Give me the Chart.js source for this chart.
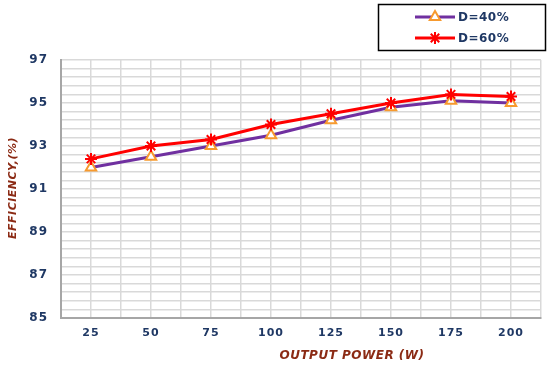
<!DOCTYPE html>
<html>
<head>
<meta charset="utf-8">
<script src="https://cdn.jsdelivr.net/npm/chart.js@4/dist/chart.umd.min.js"></script>
<style>
  body { margin: 0; background: #fff; }
  #wrap { width: 550px; height: 369px; position: relative; }
</style>
</head>
<body>
<div id="wrap"><canvas id="chart"></canvas></div>
<script>
// output power (W) on the x axis
const power = [25, 50, 75, 100, 125, 150, 175, 200];
// efficiency (%) for each duty cycle
const effD40 = [92.0, 92.5, 93.0, 93.5, 94.2, 94.8, 95.1, 95.0];
const effD60 = [92.4, 93.0, 93.3, 94.0, 94.5, 95.0, 95.4, 95.3];
const seriesNames = ["D=40%", "D=60%"];
const yTitle = "EFFICIENCY,(%)";
const xTitle = "OUTPUT POWER (W)";

const navy = "#1f3864";
const brown = "#8b2a14";
const gridColor = "#d9d9d9";

const toPoints = (ys) => ys.map((y, i) => ({ x: power[i], y: y }));

// titles and the boxed legend, drawn by hand so they sit where the original has them
const extras = {
  id: "extras",
  beforeDraw(chart) {
    chart.ctx.letterSpacing = "1px";
  },
  afterDraw(chart) {
    const ctx = chart.ctx;
    ctx.save();
    ctx.letterSpacing = "0.5px";
    ctx.fillStyle = brown;
    ctx.font = "italic bold 12px 'DejaVu Sans'";
    ctx.textAlign = "center";
    ctx.textBaseline = "middle";
    ctx.fillText(xTitle, 352, 356);

    ctx.save();
    ctx.translate(13, 188);
    ctx.rotate(-Math.PI / 2);
    ctx.font = "italic bold 11px 'DejaVu Sans'";
    ctx.fillText(yTitle, 0, 0);
    ctx.restore();

    // legend box
    ctx.strokeStyle = "#000";
    ctx.lineWidth = 1.5;
    ctx.strokeRect(378.5, 4.5, 167, 46);
    chart.data.datasets.forEach((ds, i) => {
      const y = 17 + i * 21;
      ctx.strokeStyle = ds.borderColor;
      ctx.lineWidth = 3;
      ctx.beginPath();
      ctx.moveTo(415, y);
      ctx.lineTo(455, y);
      ctx.stroke();
      ctx.strokeStyle = ds.pointBorderColor;
      ctx.fillStyle = ds.pointBackgroundColor;
      ctx.lineWidth = ds.pointBorderWidth;
      Chart.helpers.drawPoint(ctx, { pointStyle: ds.pointStyle, radius: ds.pointRadius, rotation: 0, borderWidth: ds.pointBorderWidth }, 435, y);
      ctx.fillStyle = navy;
      ctx.font = "bold 12px 'DejaVu Sans'";
      ctx.textAlign = "left";
      ctx.letterSpacing = "0.5px";
      ctx.fillText(ds.label, 458, y + 1);
    });
    ctx.restore();
  }
};

new Chart(document.getElementById("chart"), {
  type: "line",
  data: {
    datasets: [
      {
        label: seriesNames[0],
        data: toPoints(effD40),
        borderColor: "#7030a0",
        borderWidth: 3,
        pointStyle: "triangle",
        pointRadius: 6,
        pointBorderColor: "#f79a2e",
        pointBackgroundColor: "#ffffff",
        pointBorderWidth: 2,
        order: 2
      },
      {
        label: seriesNames[1],
        data: toPoints(effD60),
        borderColor: "#ff0000",
        borderWidth: 3,
        pointStyle: "star",
        pointRadius: 6,
        pointBorderColor: "#ff0000",
        pointBackgroundColor: "#ff0000",
        pointBorderWidth: 2,
        order: 1
      }
    ]
  },
  options: {
    responsive: true,
    maintainAspectRatio: false,
    animation: false,
    layout: { padding: { left: 0, right: 9, top: 60, bottom: 0 } },
    plugins: {
      legend: { display: false },
      tooltip: { enabled: false }
    },
    scales: {
      x: {
        type: "linear",
        min: 12.5,
        max: 212.5,
        afterFit: (s) => { s.height = 51; },
        border: { color: "#a6a6a6", width: 2 },
        grid: { color: gridColor, lineWidth: 1.5, drawTicks: false },
        ticks: {
          stepSize: 12.5,
          autoSkip: false,
          maxRotation: 0,
          padding: 9,
          color: navy,
          font: { family: "'DejaVu Sans'", size: 11, weight: "bold" },
          callback: (v) => (power.includes(v) ? String(v) : "")
        }
      },
      y: {
        min: 85,
        max: 97,
        afterFit: (s) => { s.width = 61; },
        border: { color: "#a6a6a6", width: 2 },
        grid: { color: gridColor, lineWidth: 1.5, drawTicks: false },
        ticks: {
          stepSize: 0.4,
          autoSkip: false,
          padding: 13,
          color: navy,
          font: { family: "'DejaVu Sans'", size: 12, weight: "bold" },
          callback: (v) => {
            const r = Math.round(v);
            return Math.abs(v - r) < 1e-6 && r % 2 === 1 ? String(r) : "";
          }
        }
      }
    }
  },
  plugins: [extras]
});
</script>
</body>
</html>
